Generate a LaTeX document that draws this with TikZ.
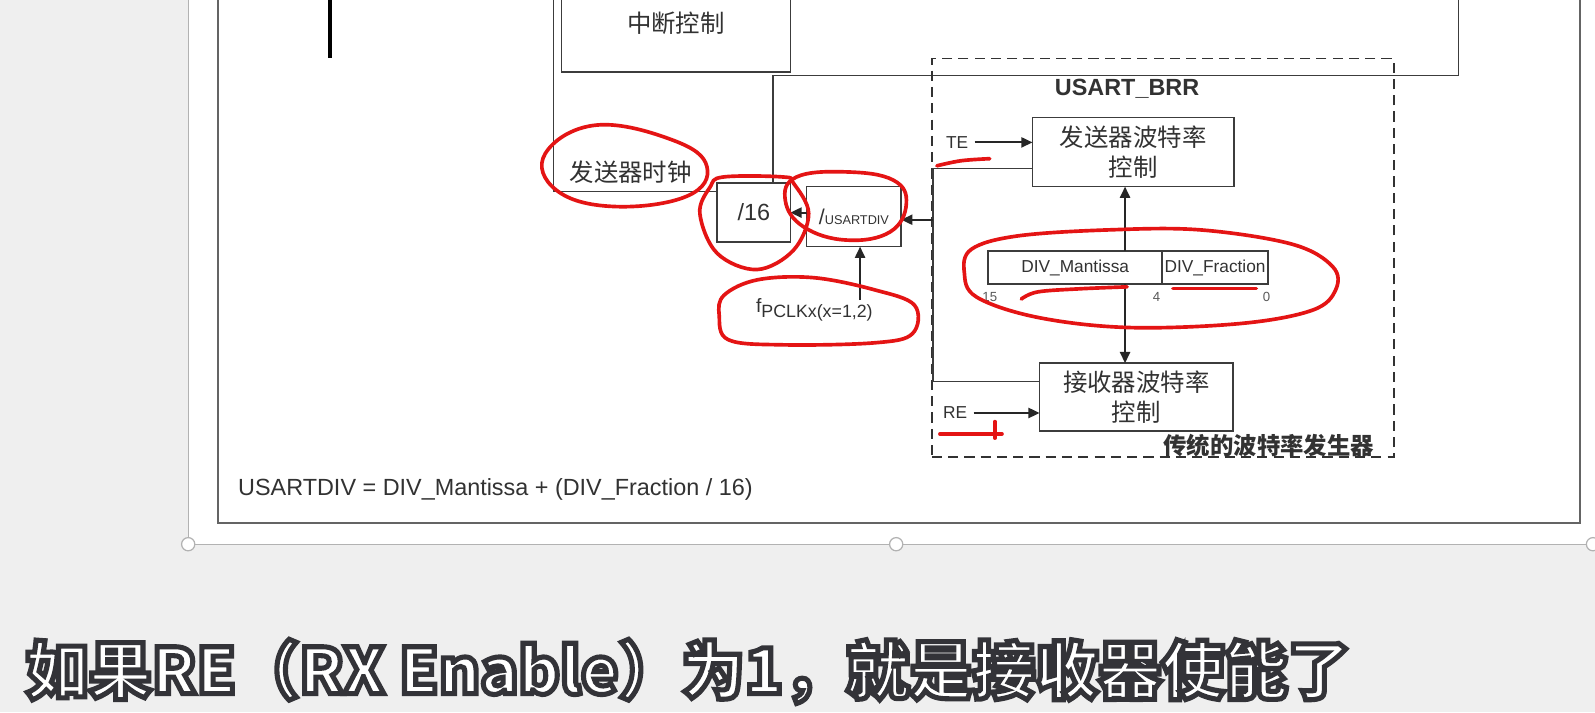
\documentclass[tikz,border=0pt]{standalone}
\usepackage{fontspec}
\setmainfont{Liberation Sans}
\newfontfamily\cjk{Noto Sans CJK SC}
\usepackage{tikz}
\usetikzlibrary{positioning, calc, arrows.meta}

\definecolor{slidegray}{RGB}{239,239,239}
\definecolor{wire}{RGB}{60,60,60}
\definecolor{ink}{RGB}{50,50,50}
\definecolor{redpen}{RGB}{228,20,20}
\definecolor{framegray}{RGB}{100,100,100}

\newcommand{\fsz}[2]{\fontsize{#1}{#2}\selectfont}

\tikzset{
  blk/.style={draw=wire, line width=1.6pt, fill=white, inner sep=0pt, outer sep=0pt, text=ink, align=center},
  sig/.style={black!85, line width=1.8pt, -{Triangle[length=11pt, width=10pt]}},
  wirel/.style={wire, line width=1.4pt},
  dashbox/.style={draw=ink, line width=1.8pt, dash pattern=on 10pt off 6pt, inner sep=0pt},
  lbl/.style={inner sep=0pt, text=ink},
  handle/.style={circle, draw=gray!60, fill=white, line width=1.2pt, minimum size=13pt, inner sep=0pt},
  redmark/.style={draw=redpen, line width=3.6pt, line cap=round, line join=round},
  subt/.style={inner sep=0pt, anchor=west, font=\cjk\bfseries\fsz{62}{70}},
}

\begin{document}
\begin{tikzpicture}[x=1pt, y=-1pt]
  \useasboundingbox (0,0) rectangle (1568,700);
  \clip (0,0) rectangle (1568,700);

  % Slide and frame
  \fill[slidegray] (0,0) rectangle (1568,700);
  \fill[white] (185,-5) rectangle (1575,535);
  \draw[gray!60, line width=1.2pt] (185,-5) -- (185,535) -- (1575,535);
  \draw[framegray, line width=1.8pt] (214,-5) -- (214,514) -- (1553,514) -- (1553,-5);
  \foreach \hx in {185,881,1566}
    \node[handle] (h\hx) at (\hx,535) {};

  % Stub at top left
  \draw[black, line width=3.5pt] (324.5,-5) -- (324.5,57);

  % Interrupt block and upper wiring
  \node[blk, minimum width=225, minimum height=96, font=\cjk\fsz{24}{29}] (irq) at (664.5,22.5) {中断控制};

  % Dividers
  \node[blk, minimum width=72, minimum height=58, font=\fsz{23}{28}] (div16) at (741,209) {/16};
  \node[blk, minimum width=93, minimum height=59] (udiv) at (839.5,213) {{\fsz{21}{24}/}{\fsz{12.5}{15}USARTDIV}};

  \node[lbl, font=\cjk\fsz{24}{29}] (txclk) at (620,169) {发送器时钟};
  \coordinate (txcorner) at (544,188);
  \coordinate (txtop) at (544,-5);
  \draw[wirel] (div16.west |- txcorner) -- (txcorner) -- (txtop);

  \coordinate (upcorner) at (760,74);
  \coordinate (upright) at (1434,74);
  \coordinate (uptop) at (1434,-5);
  \draw[wirel] (div16.north -| upcorner) -- (upcorner) -- (upright) -- (uptop);

  \draw[sig] (udiv.west |- div16.east) -- (div16.east);

  \node[lbl, anchor=west] (fpclk) at (743,305) {\fsz{19}{22}f\raisebox{-5pt}{\fsz{17.5}{20}PCLKx(x=1,2)}};
  \coordinate (fpin) at (845.5,295);
  \draw[sig] (fpin) -- (fpin |- udiv.south);

  % USART_BRR block
  \node[dashbox, minimum width=454, minimum height=392] (brr) at (1143,253.5) {};
  \node[lbl, font=\bfseries\fsz{23}{28}] (brrlbl) at (1108,87) {USART\_BRR};

  \node[blk, minimum width=198, minimum height=68, font=\cjk\fsz{24}{29.5}] (txbaud) at (1114,149.5) {发送器波特率\\控制};
  \node[blk, minimum width=190, minimum height=67, font=\cjk\fsz{24}{29.5}] (rxbaud) at (1117,390.5) {接收器波特率\\控制};

  \node[blk, minimum width=171, minimum height=33, font=\fsz{17}{20}] (mant) at (1057,263) {DIV\_Mantissa};
  \node[blk, minimum width=104, minimum height=33, font=\fsz{17}{20}, right=0pt of mant] (frac) {DIV\_Fraction};
  \node[lbl, font=\fsz{13}{15}, text=gray!70!black] (b15) at (973,292) {15};
  \node[lbl, font=\fsz{13}{15}, text=gray!70!black] (b4) at (1137,292) {4};
  \node[lbl, font=\fsz{13}{15}, text=gray!70!black] (b0) at (1245,292) {0};

  \node[lbl, font=\fsz{17}{20}] (te) at (941,140) {TE};
  \draw[sig] ([xshift=6]te.east) -- (txbaud.west |- te.east);
  \node[lbl, font=\fsz{17}{20}] (re) at (939,406) {RE};
  \draw[sig] ([xshift=6]re.east) -- (rxbaud.west |- re.east);

  \coordinate (tap) at (1106,263);
  \draw[sig] (tap |- mant.north) -- (tap |- txbaud.south);
  \draw[sig] (tap |- mant.south) -- (tap |- rxbaud.north);

  \coordinate (bustop) at (917,165.5);
  \coordinate (busbot) at (917,375);
  \coordinate (busout) at (917,216);
  \draw[wirel] (txbaud.west |- bustop) -- (bustop) -- (busbot) -- (rxbaud.west |- busbot);
  \draw[sig] (busout) -- (udiv.east |- busout);

  \node[lbl, anchor=east, font=\cjk\bfseries\fsz{23}{27}] (legacy) at (1351,438) {传统的波特率发生器};

  % Formula
  \node[lbl, anchor=west, font=\fsz{23}{28}] (formula) at (234,481) {USARTDIV = DIV\_Mantissa + (DIV\_Fraction / 16)};

  % Red pen marks
  \draw[redmark] plot[smooth cycle, tension=0.7] coordinates {(536,151) (586,123) (662,138) (695,164) (675,193) (603,203) (547,187)};
  \draw[redmark] plot[smooth cycle, tension=0.6] coordinates {(711,174) (770,174) (780,180) (795,210) (780,246) (744,265) (705,249) (688,210) (698,184)};
  \draw[redmark] plot[smooth cycle, tension=0.7] coordinates {(772,197) (783,174) (832,169) (878,177) (891,200) (875,228) (832,236) (790,223)};
  \draw[redmark] plot[smooth cycle, tension=0.6] coordinates {(712,290) (745,275) (800,273) (860,285) (899,300) (897,328) (860,337) (770,339) (716,334) (707,310)};
  \draw[redmark] plot[smooth cycle, tension=0.6] coordinates {(955,245) (1000,232) (1090,226) (1180,226) (1270,240) (1310,262) (1313,285) (1290,305) (1220,318) (1110,322) (1020,312) (960,292) (948,268)};
  \draw[redmark] plot[smooth, tension=0.6] coordinates {(921,163) (945,158) (973,156)};
  \draw[redmark] plot[smooth, tension=0.6] coordinates {(1004,294) (1020,287) (1060,284) (1108,282)};
  \draw[redmark] (1153,283.5) -- (1235,283.5);
  \draw[redmark] (924,426.6) -- (985,426.6);
  \draw[redmark] (978,414.5) -- (978,430.7);

  % Subtitle: white letters with a dark outline (fill and stroke)
  \node[subt] (subtitle) at (25,660) {\color{white}\special{pdf:literal direct 2 Tr 5 w 0.2 0.2 0.22 RG}如果RE（RX Enable）为1，就是接收器使能了\special{pdf:literal direct 0 Tr}};
\end{tikzpicture}
\end{document}
